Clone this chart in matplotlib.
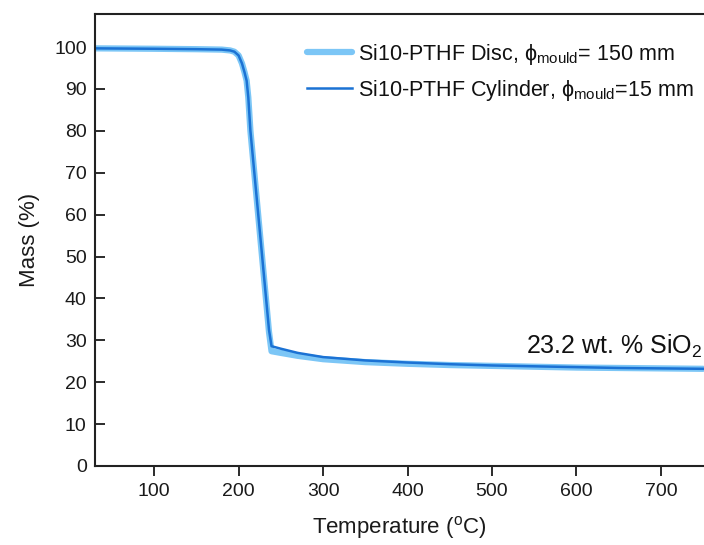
import matplotlib
matplotlib.use("Agg")
import matplotlib.pyplot as plt

plt.rcParams['font.family'] = ['Liberation Sans', 'DejaVu Sans']
plt.rcParams['mathtext.fontset'] = 'custom'
plt.rcParams['mathtext.rm'] = 'Liberation Sans'
plt.rcParams['mathtext.it'] = 'Liberation Sans:italic'

# TGA curves (temperature in C, mass in %)
temp_disc = [30, 100, 150, 180, 190, 195, 200, 204, 207, 209.5, 211.5, 214,
             225, 236, 239, 250, 270, 300, 350, 400, 450, 500, 550, 600,
             650, 700, 750]
mass_disc = [99.7, 99.6, 99.5, 99.4, 99.2, 98.9, 98.0, 96.1, 94.0, 92.0, 88.0,
             80.0, 56.0, 32.0, 27.4, 27.0, 26.3, 25.5, 24.8, 24.4, 24.1, 23.9,
             23.7, 23.5, 23.4, 23.3, 23.2]

temp_cyl = [30, 100, 150, 180, 190, 195, 200, 204, 207, 209.5, 211.5, 214,
            225, 236, 239, 250, 270, 300, 350, 400, 450, 500, 550, 600,
            650, 700, 750]
mass_cyl = [99.7, 99.6, 99.5, 99.4, 99.2, 98.9, 98.0, 96.1, 94.0, 92.0, 88.0,
            80.0, 56.3, 32.5, 28.6, 28.0, 27.0, 26.0, 25.2, 24.7, 24.3, 24.0,
            23.8, 23.6, 23.4, 23.3, 23.2]

label_disc = r'Si10-PTHF Disc, ϕ$_{\mathrm{mould}}$= 150 mm'
label_cyl = r'Si10-PTHF Cylinder, ϕ$_{\mathrm{mould}}$=15 mm'
residue_text = r'23.2 wt. % SiO$_2$'

fig = plt.figure(figsize=(7.04, 5.45), dpi=100)
ax = fig.add_axes([95 / 704, 79 / 545, 1 - 95 / 704, (466 - 14) / 545])

ax.plot(temp_disc, mass_disc, color='#7cc6f6', lw=4.5, label=label_disc,
        solid_capstyle='round')
ax.plot(temp_cyl, mass_cyl, color='#1b72d4', lw=1.8, label=label_cyl)

ax.set_xlim(30, 751)
ax.set_ylim(0, 107.9)
ax.set_xticks([100, 200, 300, 400, 500, 600, 700])
ax.set_yticks(range(0, 101, 10))

for side in ['top', 'left', 'bottom']:
    ax.spines[side].set_linewidth(1.5)
    ax.spines[side].set_color('#222222')
ax.spines['right'].set_visible(False)

ax.tick_params(axis='y', direction='in', length=7, width=1.3,
               labelsize=14, colors='#1a1a1a', pad=6)
ax.tick_params(axis='x', direction='out', length=7, width=1.3,
               labelsize=14, colors='#1a1a1a', pad=5)

ax.set_xlabel(r'Temperature ($^{\mathrm{o}}$C)', fontsize=16, labelpad=10,
              color='#1a1a1a')
ax.set_ylabel('Mass (%)', fontsize=16, labelpad=10, color='#1a1a1a')

ax.text(749, 25.2, residue_text, fontsize=18, ha='right', va='bottom',
        color='#111111')

leg = ax.legend(loc='upper right', frameon=False, fontsize=15.5,
                handlelength=2.1, handletextpad=0.3, labelspacing=0.5,
                bbox_to_anchor=(1.005, 0.967), borderaxespad=0.2)
for t in leg.get_texts():
    t.set_color('#111111')

fig.savefig('out.png', dpi=100)
